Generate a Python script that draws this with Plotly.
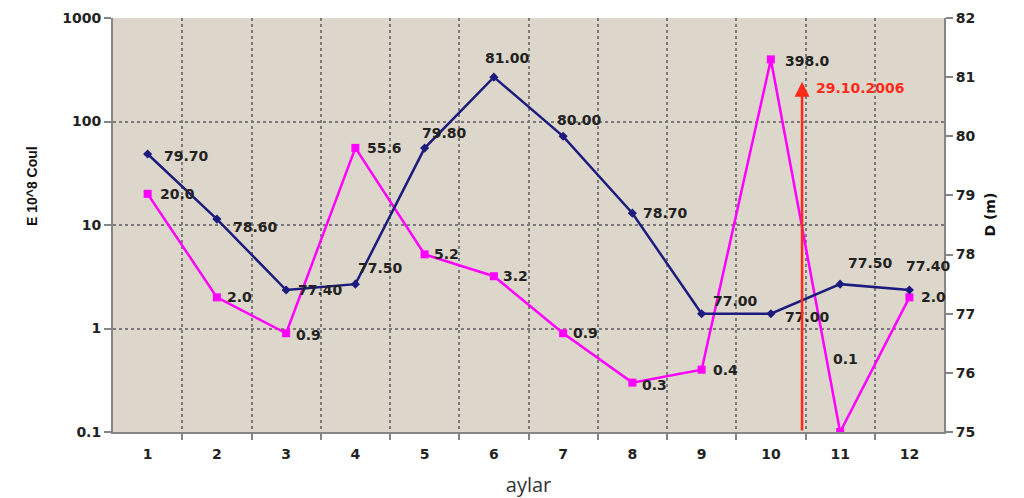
import math
import plotly.graph_objects as go

months = [1, 2, 3, 4, 5, 6, 7, 8, 9, 10, 11, 12]
energy = [20.0, 2.0, 0.9, 55.6, 5.2, 3.2, 0.9, 0.3, 0.4, 398.0, 0.1, 2.0]
energy_labels = ["20.0", "2.0", "0.9", "55.6", "5.2", "3.2", "0.9", "0.3", "0.4", "398.0", "0.1", "2.0"]
depth = [79.70, 78.60, 77.40, 77.50, 79.80, 81.00, 80.00, 78.70, 77.00, 77.00, 77.50, 77.40]
depth_labels = ["%.2f" % v for v in depth]
left_ticks = [0.1, 1, 10, 100, 1000]
left_ticktext = ["0.1", "1", "10", "100", "1000"]
right_ticks = [75, 76, 77, 78, 79, 80, 81, 82]
event_x = 10.45
event_top = 80.92
event_label = "29.10.2006"

NAVY = "#1c1c7e"
MAGENTA = "#ff00ff"
FONT = "DejaVu Sans"
LBL = dict(family=FONT, size=14, color="#222222", weight="bold")

fig = go.Figure()
fig.add_trace(go.Scatter(x=months, y=energy, mode="lines+markers", yaxis="y",
                         line=dict(color=MAGENTA, width=2.5),
                         marker=dict(symbol="square", size=8, color=MAGENTA),
                         showlegend=False))
fig.add_trace(go.Scatter(x=months, y=depth, mode="lines+markers", yaxis="y2",
                         line=dict(color=NAVY, width=2.5),
                         marker=dict(symbol="diamond", size=7, color=NAVY),
                         showlegend=False))

# label offsets (pixels)
e_off = [(10, 0), (8, 0), (8, -2), (10, 0), (7, 0), (7, 0), (8, 0), (8, -2), (9, 0), (12, -2), (-9, 73), (10, 0)]
d_off = [(14, -2), (14, -8), (10, 0), (1, 16), (-5, 15), (-11, 19), (-8, 16), (9, 0), (9, 13), (12, -3), (6, 21), (-5, 24)]

annotations = []
for x, v, t, (dx, dy) in zip(months, energy, energy_labels, e_off):
    annotations.append(dict(x=x, y=math.log10(v), xref="x", yref="y", text=t,
                            showarrow=False, xanchor="left", yanchor="middle",
                            xshift=dx, yshift=dy, font=LBL))
for x, v, t, (dx, dy) in zip(months, depth, depth_labels, d_off):
    annotations.append(dict(x=x, y=v, xref="x", yref="y2", text=t,
                            showarrow=False, xanchor="left", yanchor="middle",
                            xshift=dx, yshift=dy, font=LBL))

# event arrow
annotations.append(dict(x=event_x, y=event_top, xref="x", yref="y2",
                        ax=event_x, ay=75, axref="x", ayref="y2",
                        showarrow=True, arrowhead=2, arrowsize=1.2, arrowwidth=2.5,
                        arrowcolor="#ff2a1a", text=""))
annotations.append(dict(x=event_x, y=event_top, xref="x", yref="y2", text=event_label,
                        showarrow=False, xanchor="left", yanchor="middle",
                        xshift=12, yshift=-6,
                        font=dict(family=FONT, size=14, color="#ff2a1a", weight="bold")))

# axis titles
annotations.append(dict(x=-0.1095, y=0.594, xref="paper", yref="paper", text="<b>E 10^8 Coul</b>",
                        textangle=-90, showarrow=False,
                        font=dict(family="Liberation Sans", size=14, color="#111111")))
annotations.append(dict(x=1.068, y=0.524, xref="paper", yref="paper", text="<b>D (m)</b>",
                        textangle=-90, showarrow=False,
                        font=dict(family=FONT, size=14, color="#111111")))

axis_line = dict(showline=True, linecolor="#858585", linewidth=2, mirror=False, automargin=False)
tickfont = dict(family=FONT, size=14, color="#222222", weight="bold")

fig.update_layout(
    width=1016, height=490,
    margin=dict(l=105, r=80, t=10, b=66),
    paper_bgcolor="white",
    plot_bgcolor="#ddd6ca",
    annotations=annotations,
    xaxis=dict(range=[0.5, 12.5], tickvals=months, ticktext=[str(m) for m in months],
               ticks="", showgrid=False, zeroline=False, tickfont=tickfont,
               ticklabelstandoff=8,
               minor=dict(tickvals=[m + 0.5 for m in months[:-1]], ticks="outside", ticklen=6,
                          tickcolor="#858585", tickwidth=1.5,
                          showgrid=True, gridcolor="#7a7a7a", griddash="dot", gridwidth=1.5),
               title=dict(text="aylar", standoff=17,
                          font=dict(family="Open Sans", size=20, color="#333333")),
               **axis_line),
    yaxis=dict(type="log", range=[-1, 3], tickvals=left_ticks, ticktext=left_ticktext,
               ticks="outside", ticklen=7, tickcolor="#858585", tickwidth=1.5,
               showgrid=True, gridcolor="#7a7a7a", griddash="dot", gridwidth=1.5,
               zeroline=False, tickfont=tickfont, ticklabeloverflow="allow",
               **axis_line),
    yaxis2=dict(overlaying="y", side="right", range=[75, 82], tickvals=right_ticks,
                ticks="outside", ticklen=7, tickcolor="#858585", tickwidth=1.5,
                showgrid=False, zeroline=False, tickfont=tickfont, ticklabeloverflow="allow",
                **axis_line),
)

fig.write_html("out.html")
